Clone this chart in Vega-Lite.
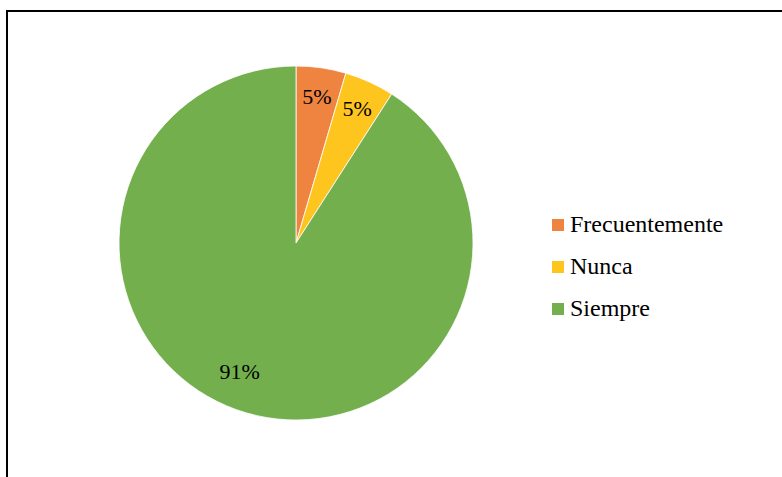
{
  "$schema": "https://vega.github.io/schema/vega-lite/v6.json",
  "autosize": {"type": "none"},
  "padding": {"left": 7, "top": 11, "right": 0, "bottom": 0},
  "width": 800,
  "height": 480,
  "background": "white",
  "data": {"values": [
    {"categoria": "Frecuentemente", "n": 1, "pct": "5%"},
    {"categoria": "Nunca", "n": 1, "pct": "5%"},
    {"categoria": "Siempre", "n": 20, "pct": "91%"}
  ]},
  "layer": [
    {
      "data": {"values": [{"marco": 1}]},
      "mark": {"type": "rect", "fill": null, "stroke": "black", "strokeWidth": 2},
      "encoding": {}
    },
    {
      "mark": {"type": "arc", "outerRadius": 177, "x": 289, "y": 232, "stroke": "white", "strokeWidth": 0.8},
      "encoding": {
        "theta": {"field": "n", "type": "quantitative", "stack": true},
        "order": {"field": "categoria", "sort": "ascending"},
        "color": {
          "field": "categoria",
          "type": "nominal",
          "scale": {
            "domain": ["Frecuentemente", "Nunca", "Siempre"],
            "range": ["#EF8441", "#FFC51F", "#73AF4C"]
          },
          "legend": {
            "title": null,
            "orient": "none",
            "legendX": 539,
            "legendY": 202,
            "padding": 0,
            "symbolType": "square",
            "symbolSize": 144,
            "symbolStrokeWidth": 0,
            "symbolOpacity": 1,
            "labelFont": "Times New Roman",
            "labelFontSize": 24,
            "labelColor": "black",
            "labelOffset": 0,
            "rowPadding": 18,
            "labelLimit": 300
          }
        }
      }
    },
    {
      "mark": {"type": "text", "radius": 147, "x": 289, "y": 232, "font": "Times New Roman", "fontSize": 22, "color": "black"},
      "encoding": {
        "theta": {"field": "n", "type": "quantitative", "stack": true},
        "order": {"field": "categoria", "sort": "ascending"},
        "text": {"condition": {"test": "datum.categoria !== 'Siempre'", "field": "pct"}, "value": ""}
      }
    },
    {
      "mark": {"type": "text", "radius": 147, "x": 289, "y": 232, "dx": -15, "dy": -12, "font": "Times New Roman", "fontSize": 22, "color": "black"},
      "encoding": {
        "theta": {"field": "n", "type": "quantitative", "stack": true},
        "order": {"field": "categoria", "sort": "ascending"},
        "text": {"condition": {"test": "datum.categoria === 'Siempre'", "field": "pct"}, "value": ""}
      }
    }
  ]
}
